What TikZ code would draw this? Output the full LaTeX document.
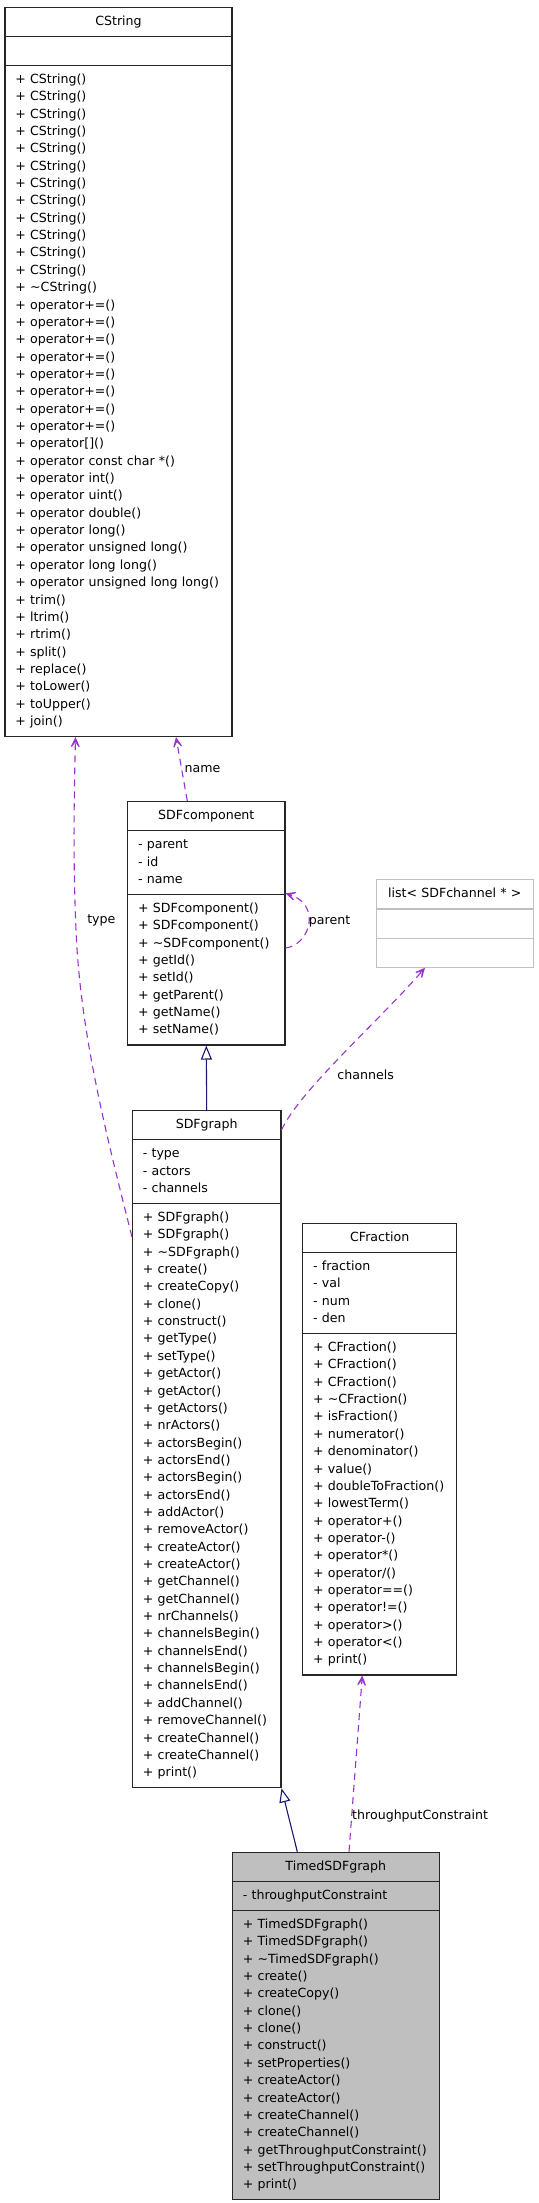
\documentclass[tikz,border=0pt]{standalone}
\usepackage{fontspec}
\setmainfont{DejaVu Sans}
\usetikzlibrary{shapes.multipart,arrows.meta}
\definecolor{orchid}{HTML}{9A32CD}
\definecolor{navy}{HTML}{191970}
\definecolor{classgrey}{HTML}{BFBFBF}
\newcommand{\umlfont}{\fontsize{12.6bp}{17.35bp}\selectfont}
\newcommand{\classname}[1]{\makebox[\linewidth]{\strut #1}}
\newcommand{\members}[1]{\begin{tabular}{@{}l@{}}#1\end{tabular}}
\tikzset{
    umlclass/.style={rectangle split, rectangle split parts=3, draw=black!85, line width=1.1bp,
        inner xsep=10.4bp, inner ysep=5.33bp, font=\umlfont, anchor=north},
    usage/.style={draw=orchid, line width=1.1bp, dash pattern=on 7bp off 5bp,
        -{Stealth[length=15bp,width=14bp,inset=10bp]}},
    inherit/.style={draw=navy, line width=1.1bp, -{Triangle[open,fill=white,length=14bp,width=11bp]}},
    edgelabel/.style={font=\umlfont, inner sep=0pt, anchor=west}
}
\begin{document}
\begin{tikzpicture}[x=1bp,y=-1bp]
    \useasboundingbox (0,0) rectangle (539,2203);
    \node[umlclass, text width=206.2bp] (CString) at (118.5,6.7) {\classname{CString}
        \nodepart{two}\strut
        \nodepart{three}\members{+ CString()\\ + CString()\\ + CString()\\ + CString()\\
            + CString()\\ + CString()\\ + CString()\\ + CString()\\ + CString()\\
            + CString()\\ + CString()\\ + CString()\\ + \textasciitilde CString()\\
            + operator+=()\\ + operator+=()\\ + operator+=()\\ + operator+=()\\
            + operator+=()\\ + operator+=()\\ + operator+=()\\ + operator+=()\\
            + operator{[]}()\\ + operator const char *()\\ + operator int()\\
            + operator uint()\\ + operator double()\\ + operator long()\\
            + operator unsigned long()\\ + operator long long()\\
            + operator unsigned long long()\\ + trim()\\ + ltrim()\\ + rtrim()\\
            + split()\\ + replace()\\ + toLower()\\ + toUpper()\\ + join()}};
    \node[umlclass, text width=136.5bp] (SDFcomponent) at (206.3,801) {\classname{SDFcomponent}
        \nodepart{two}\members{- parent\\ - id\\ - name}
        \nodepart{three}\members{+ SDFcomponent()\\ + SDFcomponent()\\
            + \textasciitilde SDFcomponent()\\ + getId()\\ + setId()\\ + getParent()\\
            + getName()\\ + setName()}};
    \node[umlclass, draw=classgrey, text width=136.5bp] (channelList) at (454.7,879.3)
        {\classname{list< SDFchannel * >}
        \nodepart{two}\strut
        \nodepart{three}\strut};
    \node[umlclass, text width=127.7bp] (SDFgraph) at (206.7,1110) {\classname{SDFgraph}
        \nodepart{two}\members{- type\\ - actors\\ - channels}
        \nodepart{three}\members{+ SDFgraph()\\ + SDFgraph()\\ + \textasciitilde SDFgraph()\\
            + create()\\ + createCopy()\\ + clone()\\ + construct()\\ + getType()\\
            + setType()\\ + getActor()\\ + getActor()\\ + getActors()\\ + nrActors()\\
            + actorsBegin()\\ + actorsEnd()\\ + actorsBegin()\\ + actorsEnd()\\
            + addActor()\\ + removeActor()\\ + createActor()\\ + createActor()\\
            + getChannel()\\ + getChannel()\\ + nrChannels()\\ + channelsBegin()\\
            + channelsEnd()\\ + channelsBegin()\\ + channelsEnd()\\ + addChannel()\\
            + removeChannel()\\ + createChannel()\\ + createChannel()\\ + print()}};
    \node[umlclass, text width=133.2bp] (CFraction) at (379.7,1222.7) {\classname{CFraction}
        \nodepart{two}\members{- fraction\\ - val\\ - num\\ - den}
        \nodepart{three}\members{+ CFraction()\\ + CFraction()\\ + CFraction()\\
            + \textasciitilde CFraction()\\ + isFraction()\\ + numerator()\\
            + denominator()\\ + value()\\ + doubleToFraction()\\ + lowestTerm()\\
            + operator+()\\ + operator-()\\ + operator*()\\ + operator/()\\
            + operator==()\\ + operator!=()\\ + operator>()\\ + operator<()\\ + print()}};
    \node[umlclass, fill=classgrey, text width=185.9bp] (TimedSDFgraph) at (335.8,1851.7)
        {\classname{TimedSDFgraph}
        \nodepart{two}\members{- throughputConstraint}
        \nodepart{three}\members{+ TimedSDFgraph()\\ + TimedSDFgraph()\\
            + \textasciitilde TimedSDFgraph()\\ + create()\\ + createCopy()\\ + clone()\\
            + clone()\\ + construct()\\ + setProperties()\\ + createActor()\\
            + createActor()\\ + createChannel()\\ + createChannel()\\
            + getThroughputConstraint()\\ + setThroughputConstraint()\\ + print()}};

    \draw[usage] ([xshift=-19bp]SDFcomponent.north) -- ([xshift=57.5bp]CString.south)
        node[edgelabel, pos=0.5, xshift=2.5bp] {name};
    \draw[usage] ([yshift=-126.7bp]SDFgraph.north west) .. controls (105,1130) and (80,1030) .. (76,930)
        node[edgelabel, xshift=10.7bp, yshift=9.3bp] {type}
        .. controls (73,860) and (74,800) .. ([xshift=-43bp]CString.south);
    \draw[usage] ([yshift=-147bp]SDFcomponent.north east) .. controls (310,945) and (322,905) ..
        ([yshift=-92.3bp]SDFcomponent.north east) node[edgelabel, pos=0.5, yshift=3bp] {parent};
    \draw[usage] ([yshift=-20bp]SDFgraph.north east) .. controls (300,1090) and (380,1020) ..
        ([xshift=-29.7bp]channelList.south) node[edgelabel, pos=0.4, xshift=9.8bp, yshift=-3.9bp] {channels};
    \draw[usage] ([xshift=13.2bp]TimedSDFgraph.north) -- ([xshift=-17.4bp]CFraction.south)
        node[edgelabel, pos=0.2] {throughputConstraint};
    \draw[inherit] (SDFgraph.north) -- (SDFcomponent.south);
    \draw[inherit] ([xshift=-38.5bp]TimedSDFgraph.north) -- (SDFgraph.south east);
\end{tikzpicture}
\end{document}
